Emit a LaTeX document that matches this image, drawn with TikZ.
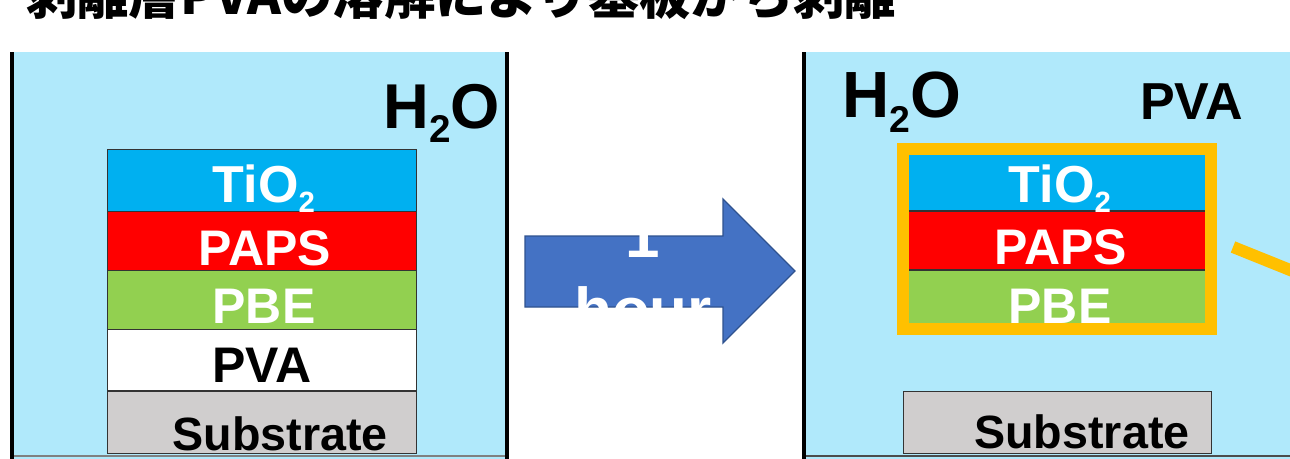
\documentclass[tikz,border=0pt]{standalone}
\usepackage{fontspec}
\setmainfont{Liberation Sans}
\newfontfamily\cjk{Noto Sans CJK JP}
\definecolor{water}{HTML}{B0E9FB}
\definecolor{tio}{HTML}{00B0F0}
\definecolor{paps}{HTML}{FF0000}
\definecolor{pbe}{HTML}{92D050}
\definecolor{subst}{HTML}{D0CECE}
\definecolor{arrowfill}{HTML}{4472C4}
\definecolor{arrowline}{HTML}{2F528F}
\definecolor{pvaorange}{HTML}{FFC000}
\newcommand\chemsub[2]{\raisebox{-#2}{\fontsize{#1}{#1}\selectfont 2}}
\begin{document}
\begin{tikzpicture}[x=0.75pt,y=-0.75pt,
  layer/.style={draw=black!80, line width=0.6pt},
  lbl/.style={anchor=base, inner sep=0pt, font=\fontsize{37.5}{40}\selectfont\bfseries},
  wall/.style={line width=3pt, black},
  wlbl/.style={anchor=base west, inner sep=0pt, font=\fontsize{47.5}{52}\selectfont\bfseries}]
\useasboundingbox (0,0) rectangle (1290,458);
\clip (0,0) rectangle (1290,458);
\fill[white] (0,0) rectangle (1290,458);
% title
\node[anchor=base west, inner sep=0pt, font=\cjk\bfseries\fontsize{38.5}{40}\selectfont] (title) at (26,14) {剥離層PVAの溶解により基板から剥離};
% left beaker
\fill[water] (13,52) rectangle (506,460);
\draw[black!50, line width=0.8pt] (13,456) -- (506,456);
\draw[wall] (12,52) -- (12,460);
\draw[wall] (507,52) -- (507,460);
\node[wlbl] (h2oL) at (383,128) {H\chemsub{29}{0.23em}O};
% left stack
\filldraw[layer, fill=tio] (107,149) rectangle (416,211);
\filldraw[layer, fill=paps] (107,211) rectangle (416,270);
\filldraw[layer, fill=pbe] (107,270) rectangle (416,329);
\filldraw[layer, fill=white] (107,329) rectangle (416,390);
\filldraw[layer, fill=subst] (107,391) rectangle (416,453);
\node[lbl, white, font=\fontsize{39}{40}\selectfont\bfseries] (tioL) at (264,202) {TiO\chemsub{22}{0.21em}};
\node[lbl, white] (papsL) at (265,265) {PAPS};
\node[lbl, white] (pbeL) at (264,323) {PBE};
\node[lbl, black] (pvaL) at (262,382) {PVA};
\node[lbl, black, font=\fontsize{35}{38}\selectfont\bfseries] (subL) at (280,450) {Substrate};
% arrow
\filldraw[fill=arrowfill, draw=arrowline, line width=1pt] (525,236) -- (723,236) -- (723,199) -- (795,271) -- (723,343) -- (723,307) -- (525,307) -- cycle;
\node[lbl, white, font=\fontsize{46.5}{50}\selectfont\bfseries] (one) at (643,257) {1};
\node[lbl, white, font=\fontsize{46.5}{50}\selectfont\bfseries] (hour) at (643,331) {hour};
% right beaker
\fill[water] (806,52) rectangle (1295,460);
\draw[black!70, line width=0.8pt] (806,456) -- (1295,456);
\draw[wall, line width=3.5pt] (804,52) -- (804,460);
\node[wlbl, font=\fontsize{49}{52}\selectfont\bfseries] (h2oR) at (842,117) {H\chemsub{28}{0.23em}O};
\node[lbl, anchor=base west, black, font=\fontsize{39}{40}\selectfont\bfseries] (pvaR) at (1140,119) {PVA};
% right stack
\fill[tio] (909,155) rectangle (1205,211);
\fill[paps] (909,211) rectangle (1205,270);
\fill[pbe] (909,270) rectangle (1205,323);
\draw[black!80, line width=0.8pt] (909,211) -- (1205,211);
\draw[black!80, line width=0.8pt] (909,270) -- (1205,270);
\node[lbl, white, font=\fontsize{39}{40}\selectfont\bfseries] (tioR) at (1060,202) {TiO\chemsub{22}{0.21em}};
\node[lbl, white] (papsR) at (1061,264) {PAPS};
\node[lbl, white] (pbeR) at (1060,323) {PBE};
\draw[pvaorange, line width=9pt] (903,149) rectangle (1211,329);
\draw[pvaorange, line width=9pt] (1233,247) -- (1310,278);
\filldraw[layer, fill=subst] (903,391) rectangle (1211,453);
\node[lbl, anchor=base west, black, font=\fontsize{35}{38}\selectfont\bfseries] (subR) at (974,448) {Substrate};
\end{tikzpicture}
\end{document}
